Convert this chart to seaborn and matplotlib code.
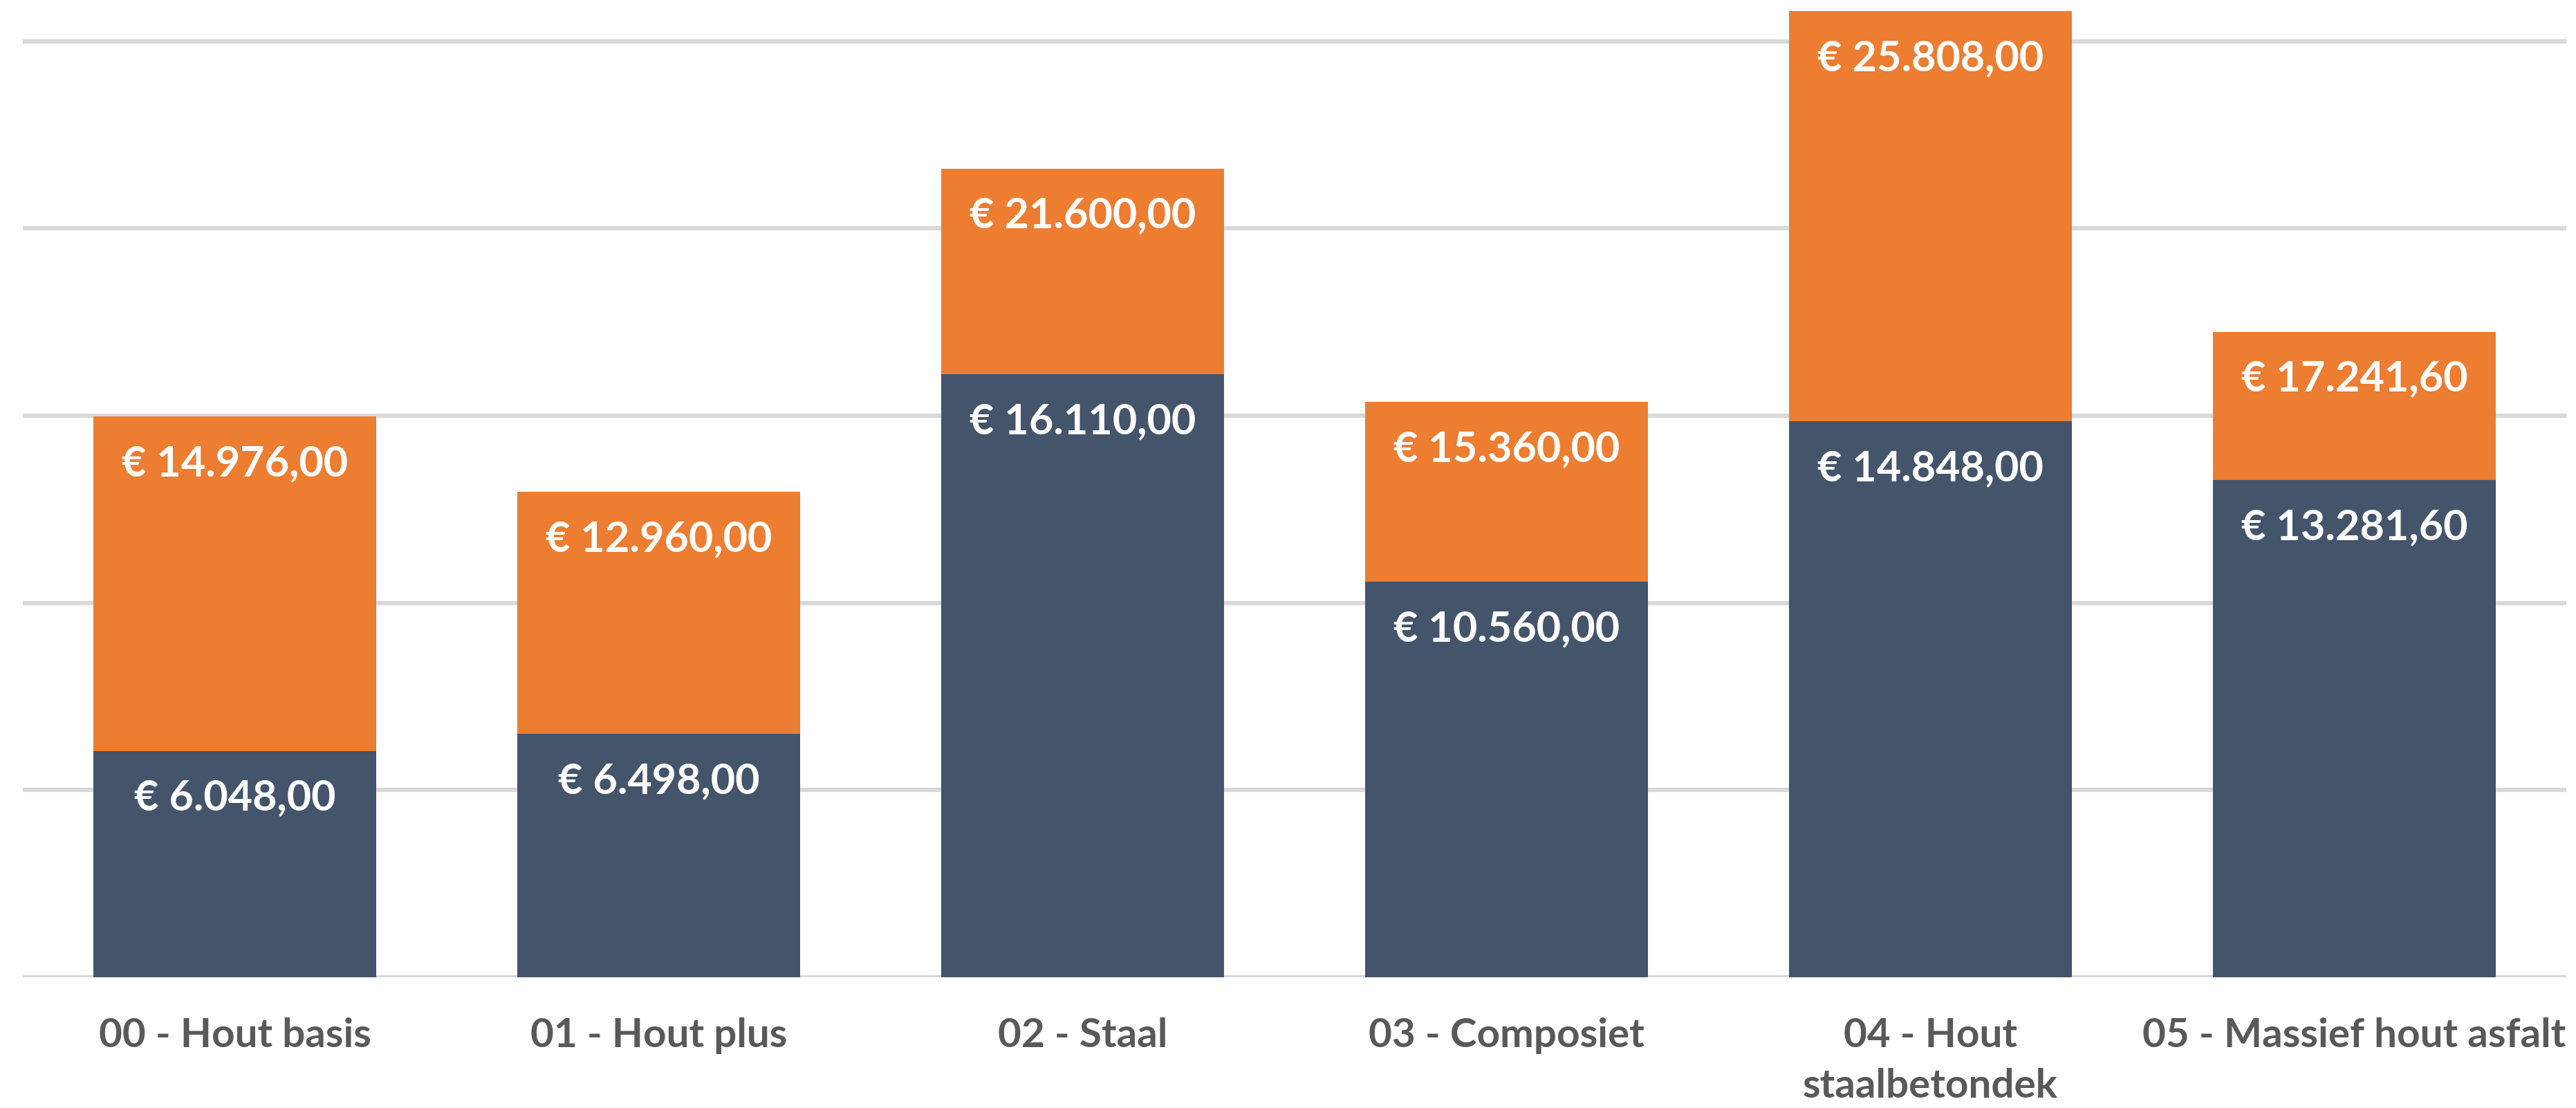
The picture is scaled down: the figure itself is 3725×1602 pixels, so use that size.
import matplotlib
matplotlib.use("Agg")
import matplotlib.pyplot as plt
import seaborn as sns
import pandas as pd

# data
categories = ["00 - Hout basis", "01 - Hout plus", "02 - Staal", "03 - Composiet",
              "04 - Hout\nstaalbetondek", "05 - Massief hout asfalt"]
base_costs = [6048.00, 6498.00, 16110.00, 10560.00, 14848.00, 13281.60]
total_costs = [14976.00, 12960.00, 21600.00, 15360.00, 25808.00, 17241.60]

DARK = "#44546A"
ORANGE = "#ED7D31"
GRID = "#D9D9D9"
LABEL = "#595959"


def euro(v):
    s = "{:,.2f}".format(v)
    s = s.replace(",", "X").replace(".", ",").replace("X", ".")
    return "€ " + s


df = pd.DataFrame({"cat": categories, "base": base_costs, "total": total_costs})

sns.set_style("white")
plt.rcParams["font.family"] = ["Lato", "DejaVu Sans"]

fig = plt.figure(figsize=(37.25, 16.02), dpi=100)
ax = fig.add_axes([0.0089, 0.118, 0.9873, 0.882])

# stacked look: totals in orange, base drawn over it
sns.barplot(data=df, x="cat", y="total", color=ORANGE, width=0.667,
            saturation=1, linewidth=0, ax=ax, zorder=2)
sns.barplot(data=df, x="cat", y="base", color=DARK, width=0.667,
            saturation=1, linewidth=0, ax=ax, zorder=3)

ax.set_ylim(0, 26100)
ax.set_xlim(-0.5, 5.5)
ax.set_yticks(range(0, 25001, 5000))
ax.yaxis.grid(True, color=GRID, linewidth=4.5, zorder=0)
ax.set_axisbelow(True)
for sp in ax.spines.values():
    sp.set_visible(False)
ax.set_yticklabels([])
ax.tick_params(axis="y", length=0)
ax.tick_params(axis="x", length=0, pad=42, labelsize=42, labelcolor=LABEL)
for t in ax.get_xticklabels():
    t.set_fontweight("bold")
    t.set_linespacing(1.45)
ax.set_xlabel("")
ax.set_ylabel("")

for i in range(len(categories)):
    for v in (base_costs[i], total_costs[i]):
        ax.annotate(euro(v), (i, v), xytext=(0, -68), textcoords="offset pixels",
                    ha="center", va="center", color="white", fontsize=44,
                    fontweight="bold", zorder=5)

fig.savefig("out.png", dpi=100)
